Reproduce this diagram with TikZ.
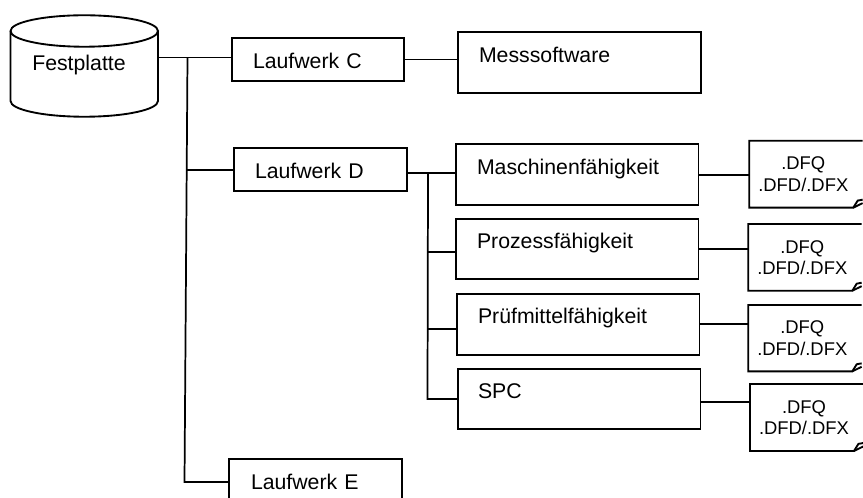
\documentclass[tikz,border=0pt]{standalone}
\usepackage{fontspec}
\setmainfont{Liberation Sans}
\tikzset{
  pbox/.code n args={4}{%
    \pgfmathsetlengthmacro\bw{(#1-2*#2)*0.75pt}%
    \pgfmathsetlengthmacro\bo{#2*0.75pt}%
    \pgfmathsetlengthmacro\ba{#3*0.75pt}%
    \pgfmathsetlengthmacro\bd{#4*0.75pt}%
    \tikzset{text width=\bw,inner xsep=\bo,text height=\ba,text depth=\bd}},
  box/.style={draw=black,line width=1.3pt,fill=white,rectangle,anchor=north west,inner ysep=0pt,outer sep=0pt,align=left,
    font=\fontsize{15.95}{18}\selectfont},
  docnote/.style={rectangle,inner sep=0pt,outer sep=0pt,minimum width=81pt,align=center,
    font=\fontsize{13.8}{16}\selectfont},
  link/.style={draw=black,line width=1.3pt},
  outline/.style={draw=black,line width=1.4pt,line join=miter}
}
\newcommand{\notefold}[1]{%
  \draw[outline] ([xshift=4pt]#1.north east) -- (#1.north west) -- (#1.south west) -- ([xshift=-3pt]#1.south east)
    -- ([xshift=0.3pt,yshift=5.3pt]#1.south east) -- ([xshift=4pt,yshift=6pt]#1.south east);
  \draw[outline] ([xshift=-3pt]#1.south east) -- ([xshift=4pt,yshift=3.4pt]#1.south east);
}
\begin{document}
\begin{tikzpicture}[x=0.75pt,y=-0.75pt]
\useasboundingbox (0,0) rectangle (863,498);
\clip (0,0) rectangle (863,498);
\fill[white] (0,0) rectangle (863,498);

% disk
\node[rectangle,inner sep=0pt,outer sep=0pt,anchor=north west,minimum width=111pt,minimum height=76.2pt] (disk) at (10.5,15) {};
\node[anchor=base west,inner sep=0pt,font=\fontsize{15.95}{18}\selectfont] (disklabel) at (32,70.7) {Festplatte};
\draw[outline] (10.5,31) arc[start angle=180,end angle=-180,x radius=55.31pt,y radius=11.8pt];
\draw[outline] (10.5,31) -- (10.5,101) arc[start angle=180,end angle=360,x radius=55.31pt,y radius=11.8pt] -- (158,31);

% drives and folders
\node[box,pbox={172}{20.7}{30.7}{11.7}] (c) at (232.3,38.3) {Laufwerk C};
\node[box,pbox={242.7}{21}{30.4}{30.6}] (mess) at (458,32.3) {Messsoftware};
\node[box,pbox={173}{21.3}{30.4}{12}] (d) at (233.7,148.3) {Laufwerk D};
\node[box,pbox={242.5}{21}{30.7}{30.3}] (m) at (456,144.3) {Maschinenfähigkeit};
\node[box,pbox={242.5}{21}{30}{30.3}] (p) at (456,219) {Prozessfähigkeit};
\node[box,pbox={242.5}{21}{30}{30.7}] (q) at (457,294) {Prüfmittelfähigkeit};
\node[box,pbox={242.5}{20}{30.3}{29.7}] (s) at (458,368.7) {SPC};
\node[box,pbox={172.7}{21.7}{30.3}{25}] (e) at (229.3,459) {Laufwerk E};

% file notes
\node[docnote,minimum height=50.2pt] (n1) at (803.3,174.2) {.DFQ\\.DFD/.DFX};
\node[docnote,minimum height=50pt] (n2) at (802.3,257.4) {.DFQ\\.DFD/.DFX};
\node[docnote,minimum height=49.7pt] (n3) at (802.3,338.2) {.DFQ\\.DFD/.DFX};
\node[docnote,minimum height=50.2pt] (n4) at (804,417.5) {.DFQ\\.DFD/.DFX};
\notefold{n1}
\notefold{n2}
\notefold{n3}
\notefold{n4}

% junctions
\coordinate (busTop) at (187.5,57.5);
\coordinate (busD) at (187,170);
\coordinate (busE) at (184.5,482);
\coordinate (subTop) at (428,172.7);
\coordinate (subP) at (428,251.7);
\coordinate (subQ) at (428,329.3);
\coordinate (subS) at (427.5,399);
\coordinate (outS) at (700.5,401.7);

% connectors
\draw[link] (disk.east |- busTop) -- (c.west |- busTop);
\draw[link] (busTop) -- (busE) -- (e.west |- busE);
\draw[link] (busD) -- (d.west |- busD);
\draw[link] (c.east) -- (c.east -| mess.west);
\draw[link] (d.east |- subTop) -- (m.west |- subTop);
\draw[link] (subTop) -- (subS) -- (s.west |- subS);
\draw[link] (subP) -- (p.west |- subP);
\draw[link] (subQ) -- (q.west |- subQ);
\draw[link] (m.east) -- (m.east -| n1.west);
\draw[link] (p.east) -- (p.east -| n2.west);
\draw[link] (q.east) -- (q.east -| n3.west);
\draw[link] (outS) -- (outS -| n4.west);
\end{tikzpicture}
\end{document}
